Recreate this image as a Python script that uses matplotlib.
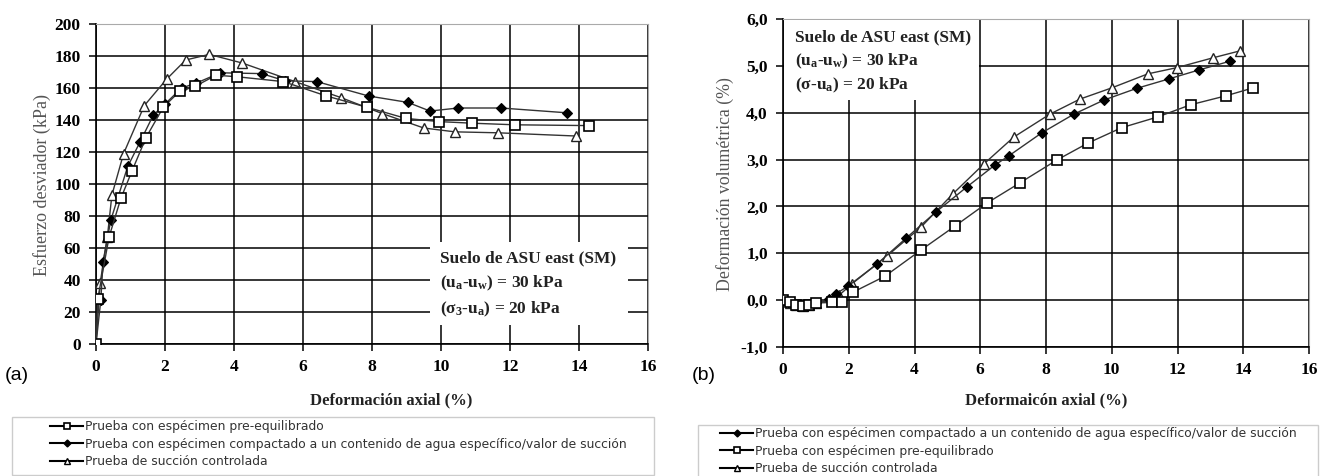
import matplotlib
matplotlib.use("Agg")
import matplotlib.pyplot as plt
from matplotlib.patches import Rectangle
from matplotlib.lines import Line2D

plt.rcParams['font.family'] = ['Liberation Serif', 'DejaVu Serif']
plt.rcParams['mathtext.default'] = 'regular'

# ---------------- data: panel (a) ----------------
a_sq_x = [0, 0.05, 0.38, 0.72, 1.04, 1.45, 1.95, 2.43, 2.87, 3.48, 4.1, 5.43, 6.68, 7.85, 8.98, 9.95, 10.9, 12.14, 14.3]
a_sq_y = [0, 28, 67, 91, 108, 129, 148, 158, 161, 168, 167, 164, 155, 148, 141, 139, 138, 137, 136.5]
a_di_x = [0, 0.14, 0.2, 0.43, 0.92, 1.27, 1.66, 2.0, 2.48, 2.9, 3.6, 4.8, 5.48, 6.4, 7.9, 9.04, 9.68, 10.5, 11.74, 13.65]
a_di_y = [0, 27.5, 51, 77.5, 111, 126, 143, 150, 160, 163, 169.5, 169, 164.5, 164, 155, 151, 145.6, 147.5, 147.5, 144.5]
a_tr_x = [0, 0.12, 0.33, 0.46, 0.8, 1.4, 2.05, 2.6, 3.28, 4.24, 5.77, 7.1, 8.3, 9.5, 10.4, 11.65, 13.9]
a_tr_y = [0, 38, 67, 93, 119, 149, 165.6, 177.5, 181, 175.6, 164, 154, 144, 135, 132.6, 132, 130]

# ---------------- data: panel (b) ----------------
b_di_x = [0, 0.15, 0.3, 0.45, 0.6, 0.8, 1.0, 1.4, 1.6, 1.98, 2.86, 3.74, 4.65, 5.6, 6.44, 6.87, 7.87, 8.85, 9.76, 10.76, 11.73, 12.64, 13.6]
b_di_y = [0, -0.05, -0.1, -0.12, -0.12, -0.1, -0.07, 0.03, 0.13, 0.3, 0.77, 1.32, 1.88, 2.42, 2.88, 3.08, 3.57, 3.97, 4.27, 4.52, 4.72, 4.91, 5.1]
b_sq_x = [0, 0.2, 0.4, 0.6, 0.8, 1.0, 1.5, 1.8, 2.13, 3.1, 4.2, 5.23, 6.2, 7.2, 8.33, 9.27, 10.3, 11.4, 12.4, 13.47, 14.3]
b_sq_y = [0, -0.05, -0.1, -0.12, -0.1, -0.06, -0.05, -0.05, 0.17, 0.51, 1.07, 1.58, 2.07, 2.5, 2.99, 3.35, 3.68, 3.91, 4.17, 4.36, 4.53]
b_tr_x = [0, 0.2, 0.4, 0.6, 0.8, 1.0, 1.5, 1.7, 2.1, 3.16, 4.2, 5.17, 6.1, 7.02, 8.12, 9.03, 10.0, 11.1, 11.97, 13.07, 13.9]
b_tr_y = [0, -0.06, -0.1, -0.12, -0.11, -0.06, 0.0, 0.1, 0.35, 0.94, 1.56, 2.27, 2.9, 3.48, 3.97, 4.29, 4.53, 4.83, 4.96, 5.17, 5.32]

x_ticks = [0, 2, 4, 6, 8, 10, 12, 14, 16]
a_y_ticks = [0, 20, 40, 60, 80, 100, 120, 140, 160, 180, 200]
b_y_ticks = [-1.0, 0.0, 1.0, 2.0, 3.0, 4.0, 5.0, 6.0]
b_y_labels = ['-1,0', '0,0', '1,0', '2,0', '3,0', '4,0', '5,0', '6,0']

lab_sq = 'Prueba con espécimen pre-equilibrado'
lab_di = 'Prueba con espécimen compactado a un contenido de agua específico/valor de succión'
lab_tr = 'Prueba de succión controlada'

W, H = 1330, 476
fig = plt.figure(figsize=(W / 100, H / 100), dpi=100)


def fx(px):
    return px / W


def fy(py):
    return 1 - py / H


def axes_rect(l, t, r, b):
    return [fx(l), fy(b), fx(r) - fx(l), fy(t) - fy(b)]


ax1 = fig.add_axes(axes_rect(96, 24, 648, 344))
ax2 = fig.add_axes(axes_rect(783, 19, 1309, 347))

line_kw = dict(color='#333333', lw=1.0)
sq_kw = dict(marker='s', ms=6.5, mfc='white', mec='black', mew=1.2)
di_kw = dict(marker='D', ms=5, mfc='black', mec='black', mew=0.8)
tr_kw = dict(marker='^', ms=7, mfc='white', mec='#222222', mew=1.0)

ax1.plot(a_tr_x, a_tr_y, **line_kw, **tr_kw, zorder=3)
ax1.plot(a_di_x, a_di_y, **line_kw, **di_kw, zorder=4)
ax1.plot(a_sq_x, a_sq_y, **line_kw, **sq_kw, zorder=5)

ax2.plot(b_tr_x, b_tr_y, **line_kw, **tr_kw, zorder=3)
ax2.plot(b_di_x, b_di_y, **line_kw, **di_kw, zorder=4)
ax2.plot(b_sq_x, b_sq_y, **line_kw, **sq_kw, zorder=5)

tick_font = dict(family='Liberation Serif', weight='bold', size=12.5)

for ax in (ax1, ax2):
    ax.set_xlim(0, 16)
    ax.set_xticks(x_ticks)
    ax.set_xticklabels([str(t) for t in x_ticks], **tick_font)
    ax.grid(True, color='black', lw=1.1)
    ax.set_axisbelow(True)
    ax.spines['left'].set_color('black')
    ax.spines['bottom'].set_color('black')
    ax.spines['left'].set_linewidth(1.2)
    ax.spines['bottom'].set_linewidth(1.2)
    ax.spines['top'].set_color('#aaaaaa')
    ax.spines['right'].set_color('#aaaaaa')
    ax.tick_params(direction='out', length=5, width=1.1, color='black', pad=6)

ax1.set_ylim(0, 200)
ax1.set_yticks(a_y_ticks)
ax1.set_yticklabels([str(t) for t in a_y_ticks], **tick_font)
ax2.set_ylim(-1, 6)
ax2.set_yticks(b_y_ticks)
ax2.set_yticklabels(b_y_labels, **tick_font)

# axis labels
fig.text(fx(42), fy(185), 'Esfuerzo desviador (kPa)', rotation=90, ha='center', va='center',
         fontsize=13, color='#555555')
fig.text(fx(391), fy(400), 'Deformación axial (%)', ha='center', va='center',
         fontsize=12, weight='bold', color='#222222')
fig.text(fx(725), fy(184), 'Deformación volumétrica (%)', rotation=90, ha='center', va='center',
         fontsize=12.8, color='#555555')
fig.text(fx(1046), fy(400), 'Deformaicón axial (%)', ha='center', va='center',
         fontsize=12, weight='bold', color='#222222')

# panel letters
fig.text(fx(5), fy(376), '(a)', ha='left', va='center', fontsize=14, family='Liberation Sans')
fig.text(fx(692), fy(376), '(b)', ha='left', va='center', fontsize=14, family='Liberation Sans')

# annotation boxes
ann_font = dict(fontsize=12.5, weight='bold', color='#222222', ha='left', va='center')
fig.patches.append(Rectangle((fx(430), fy(325)), fx(628) - fx(430), fy(242) - fy(325),
                             transform=fig.transFigure, facecolor='white', edgecolor='none', zorder=2))
fig.text(fx(440), fy(258), 'Suelo de ASU east (SM)', zorder=3, **ann_font)
fig.text(fx(440), fy(283), '(u$_a$-u$_w$) = 30 kPa', zorder=3, **ann_font)
fig.text(fx(440), fy(309), '(σ$_3$-u$_a$) = 20 kPa', zorder=3, **ann_font)

fig.patches.append(Rectangle((fx(784), fy(100)), fx(979) - fx(784), fy(20) - fy(100),
                             transform=fig.transFigure, facecolor='white', edgecolor='none', zorder=2))
fig.text(fx(795), fy(37), 'Suelo de ASU east (SM)', zorder=3, **ann_font)
fig.text(fx(795), fy(61), '(u$_a$-u$_w$) = 30 kPa', zorder=3, **ann_font)
fig.text(fx(795), fy(85), '(σ-u$_a$) = 20 kPa', zorder=3, **ann_font)

# legends (smaller markers, as in the reference)
hl_kw = dict(color='black', lw=1.5)
h_sq = Line2D([], [], **hl_kw, marker='s', ms=4.5, mfc='white', mec='black', mew=1.2)
h_di = Line2D([], [], **hl_kw, marker='D', ms=3.5, mfc='black', mec='black')
h_tr = Line2D([], [], **hl_kw, marker='^', ms=5, mfc='white', mec='black', mew=1.0)

fig.patches.append(Rectangle((fx(12), fy(475)), fx(654) - fx(12), fy(417) - fy(475),
                             transform=fig.transFigure, facecolor='white', edgecolor='#cccccc', lw=1, zorder=1))
fig.patches.append(Rectangle((fx(698), fy(480)), fx(1318) - fx(698), fy(425) - fy(480),
                             transform=fig.transFigure, facecolor='white', edgecolor='#cccccc', lw=1, zorder=1))

leg_kw = dict(loc='upper left', frameon=False, handlelength=2.7, handletextpad=0.15,
              labelspacing=0.38, borderpad=0, borderaxespad=0, labelcolor='#333333',
              prop=dict(family='DejaVu Sans', size=8.9))
fig.legend([h_sq, h_di, h_tr], [lab_sq, lab_di, lab_tr], bbox_to_anchor=(fx(50), fy(420)), **leg_kw)
fig.legend([h_di, h_sq, h_tr], [lab_di, lab_sq, lab_tr], bbox_to_anchor=(fx(720), fy(427)), **leg_kw)

fig.savefig('out.png', dpi=100)
